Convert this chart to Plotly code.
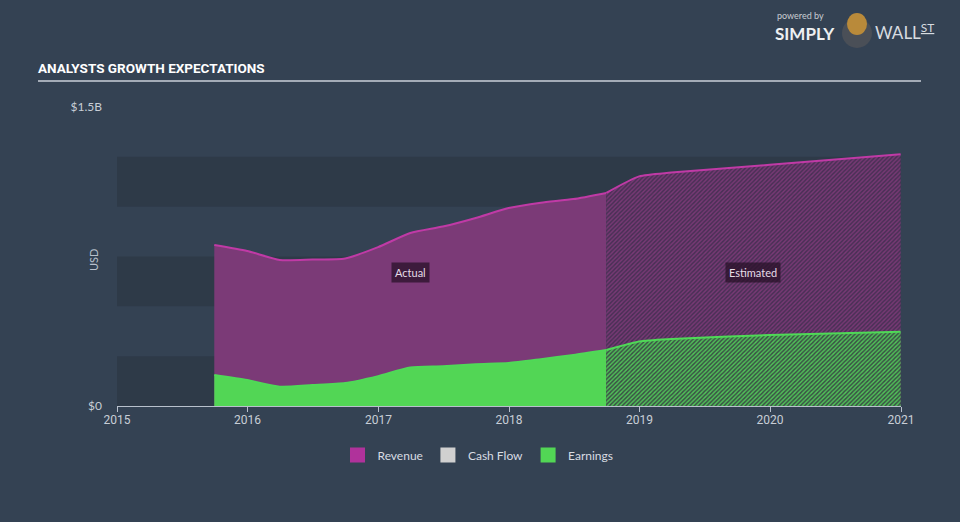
import plotly.graph_objects as go

# values in billions USD
actual_dates = ['2015-09-30', '2015-12-31', '2016-03-31', '2016-06-30', '2016-09-30',
                '2016-12-31', '2017-03-31', '2017-06-30', '2017-09-30', '2017-12-31',
                '2018-03-31', '2018-06-30', '2018-09-30']
revenue_actual = [0.808, 0.778, 0.733, 0.735, 0.740, 0.797, 0.868, 0.900, 0.943, 0.993,
                  1.020, 1.038, 1.069]
earnings_actual = [0.155, 0.130, 0.097, 0.105, 0.115, 0.150, 0.193, 0.199, 0.210, 0.216,
                   0.235, 0.256, 0.281]

est_dates = ['2018-09-30', '2018-12-31', '2019-03-31', '2019-12-31', '2020-12-31']
revenue_est = [1.069, 1.152, 1.171, 1.210, 1.263]
earnings_est = [0.281, 0.324, 0.336, 0.356, 0.373]

year_ticks = ['2015-01-01', '2016-01-01', '2017-01-01', '2018-01-01',
              '2019-01-01', '2020-01-01', '2021-01-01']
year_labels = ['2015', '2016', '2017', '2018', '2019', '2020', '2021']

BG = '#344253'
BAND = '#2e3a48'
NARROW = 'Roboto, sans-serif'
SANS = 'Lato, Noto Sans, sans-serif'


def px(x, y):
    # pixel position -> paper coords (plot area 117..901 x 107..406)
    return (x - 117) / 784, (406 - y) / 299


fig = go.Figure()

# revenue
fig.add_trace(go.Scatter(x=actual_dates, y=revenue_actual, mode='lines', fill='tozeroy',
                         line=dict(color='#c03aa6', width=2, shape='spline', smoothing=0.6),
                         fillcolor='#7b3a77', showlegend=False, hoverinfo='skip'))
fig.add_trace(go.Scatter(x=est_dates, y=revenue_est, mode='lines', fill='tozeroy',
                         line=dict(color='#c03aa6', width=2, shape='spline', smoothing=0.6),
                         fillcolor='#4a3056',
                         fillpattern=dict(shape='/', fgcolor='#7b3a77', bgcolor='#4a3056',
                                          size=3, solidity=0.45, fillmode='replace'),
                         showlegend=False, hoverinfo='skip'))
# earnings
fig.add_trace(go.Scatter(x=actual_dates, y=earnings_actual, mode='lines', fill='tozeroy',
                         line=dict(color='#4fd957', width=2, shape='spline', smoothing=0.6),
                         fillcolor='#52d655', showlegend=False, hoverinfo='skip'))
fig.add_trace(go.Scatter(x=est_dates, y=earnings_est, mode='lines', fill='tozeroy',
                         line=dict(color='#4fd957', width=2, shape='spline', smoothing=0.6),
                         fillcolor='#3c5a46',
                         fillpattern=dict(shape='/', fgcolor='#52c85a', bgcolor='#3b5446',
                                          size=3, solidity=0.45, fillmode='replace'),
                         showlegend=False, hoverinfo='skip'))

# legend entries
for name, col in [('Revenue', '#b0329b'), ('Cash Flow', '#d0d0d0'), ('Earnings', '#52d655')]:
    fig.add_trace(go.Scatter(x=[None], y=[None], mode='markers', name=name,
                             marker=dict(symbol='square', size=15, color=col)))

# background bands
for y0, y1 in [(0, 0.25), (0.5, 0.75), (1.0, 1.25)]:
    fig.add_shape(type='rect', xref='x', yref='y', x0='2015-01-01', x1='2021-01-01',
                  y0=y0, y1=y1, fillcolor=BAND, line_width=0, layer='below')

# title underline
x0, y0 = px(38, 81)
x1, _ = px(921, 81)
fig.add_shape(type='line', xref='paper', yref='paper', x0=x0, x1=x1, y0=y0, y1=y0,
              line=dict(color='#a4acb7', width=2))

annotations = []


def label(text, x, y, size, color, family, anchor='left', **kw):
    ax, ay = px(x, y)
    annotations.append(dict(text=text, xref='paper', yref='paper', x=ax, y=ay,
                            xanchor=anchor, yanchor='middle', showarrow=False,
                            font=dict(size=size, color=color, family=family), **kw))


# logo medallion
cx0, cy0 = px(842, 48)
cx1, cy1 = px(872, 18)
fig.add_shape(type='circle', xref='paper', yref='paper', x0=cx0, x1=cx1, y0=cy0, y1=cy1,
              fillcolor='#4a4f57', line_width=0)
cx0, cy0 = px(847, 35)
cx1, cy1 = px(867, 13)
fig.add_shape(type='circle', xref='paper', yref='paper', x0=cx0, x1=cx1, y0=cy0, y1=cy1,
              fillcolor='#b98a3a', line_width=0)

label('<b>ANALYSTS GROWTH EXPECTATIONS</b>', 36, 68, 13.5, '#ffffff', NARROW)
label('USD', 93, 260, 11, '#b8c0cc', SANS, anchor='center', textangle=-90)
label('powered by', 775, 15, 9, '#c8ccd2', SANS)
label('<b>SIMPLY</b>', 773, 34, 17, '#eef0f2', SANS)
label('WALL<sup><u>ST</u></sup>', 873, 32, 17, '#d8dce0', SANS)

annotations += [
    dict(text='Actual', x='2017-04-01', y=0.672, xref='x', yref='y', showarrow=False,
         font=dict(size=11, color='#e6dce6', family=SANS), bgcolor='rgba(40,18,40,0.75)',
         borderpad=3),
    dict(text='Estimated', x='2019-11-15', y=0.672, xref='x', yref='y', showarrow=False,
         font=dict(size=11, color='#e6dce6', family=SANS), bgcolor='rgba(40,18,40,0.75)',
         borderpad=3),
]

fig.update_layout(
    width=960, height=522,
    paper_bgcolor=BG, plot_bgcolor=BG,
    margin=dict(l=117, r=59, t=107, b=116),
    annotations=annotations,
    showlegend=True,
    legend=dict(orientation='h', x=(478 - 117) / 784, xanchor='center', y=-0.115, yanchor='top',
                font=dict(size=12, color='#d8dce2', family=SANS), itemclick=False,
                bgcolor='rgba(0,0,0,0)'),
    xaxis=dict(type='date', range=['2015-01-01', '2021-01-01'], tickvals=year_ticks,
               ticktext=year_labels, showgrid=False, zeroline=False, showline=True,
               linecolor='#b8c0cc', linewidth=1, ticks='outside', ticklen=5,
               tickcolor='#b8c0cc', ticklabelstandoff=-2,
               tickfont=dict(size=12, color='#c8ced6', family=NARROW)),
    yaxis=dict(range=[0, 1.5], tickvals=[0, 1.5], ticktext=['$0', '$1.5B'],
               showgrid=False, zeroline=False, showline=False, ticks='',
               ticklabelstandoff=14,
               tickfont=dict(size=12, color='#c8ced6', family=SANS)),
)

fig.write_html('out.html', config={'displayModeBar': False},
               post_script="document.body.style.margin='0';")
